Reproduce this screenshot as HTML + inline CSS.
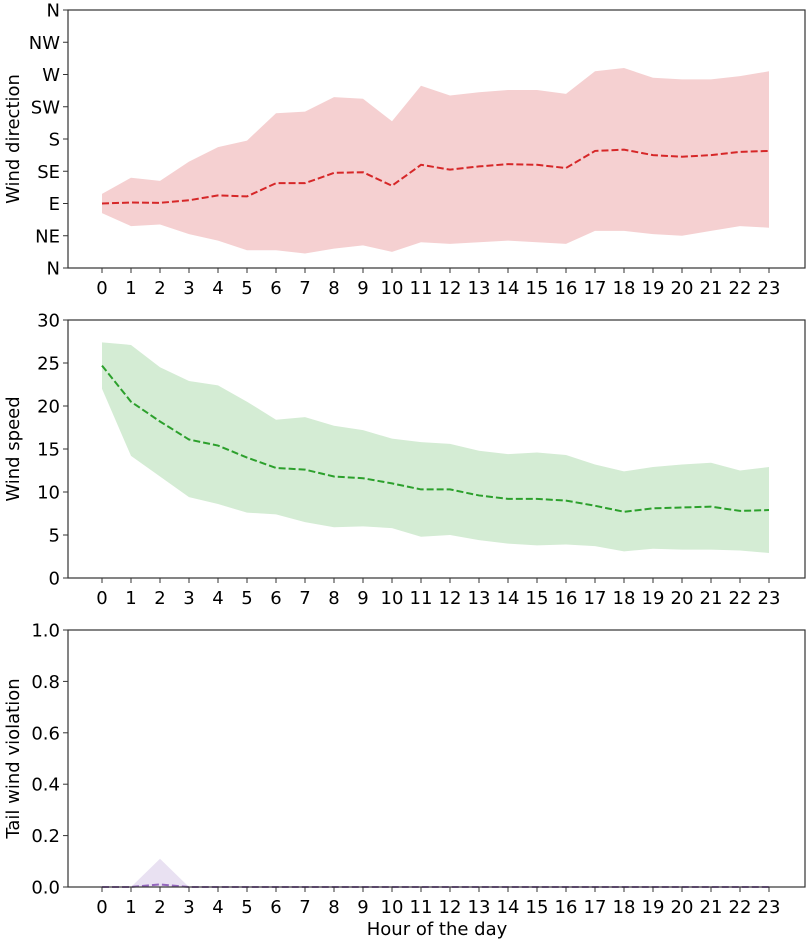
<!DOCTYPE html>
<html><head><meta charset="utf-8"><style>
body{margin:0;background:#fff;}
svg text{font-family:"DejaVu Sans","Liberation Sans",sans-serif;fill:#000;}
</style></head><body>
<svg id="chart" width="809" height="942" viewBox="0 0 809 942"></svg>
<script>
const hours=[0,1,2,3,4,5,6,7,8,9,10,11,12,13,14,15,16,17,18,19,20,21,22,23];
const dirMean=[2.0,2.03,2.02,2.1,2.25,2.22,2.63,2.63,2.95,2.97,2.55,3.2,3.05,3.15,3.22,3.2,3.1,3.63,3.67,3.5,3.45,3.5,3.6,3.63];
const dirUpper=[2.3,2.8,2.7,3.3,3.75,3.95,4.8,4.85,5.3,5.25,4.55,5.65,5.35,5.45,5.52,5.52,5.4,6.1,6.2,5.9,5.85,5.85,5.95,6.1];
const dirLower=[1.7,1.3,1.35,1.05,0.85,0.55,0.55,0.45,0.6,0.7,0.5,0.8,0.75,0.8,0.85,0.8,0.75,1.15,1.15,1.05,1.0,1.15,1.3,1.25];
const dirTicks=["N","NE","E","SE","S","SW","W","NW","N"];
const spdMean=[24.7,20.5,18.2,16.1,15.4,14,12.8,12.6,11.8,11.6,11,10.3,10.3,9.6,9.2,9.2,9,8.4,7.7,8.1,8.2,8.3,7.8,7.9];
const spdUpper=[27.4,27.1,24.5,22.9,22.4,20.5,18.4,18.7,17.7,17.2,16.2,15.8,15.6,14.8,14.4,14.6,14.3,13.2,12.4,12.9,13.2,13.4,12.5,12.9];
const spdLower=[22,14.2,11.8,9.4,8.6,7.6,7.4,6.5,5.9,6,5.8,4.8,5,4.4,4,3.8,3.9,3.7,3.1,3.4,3.3,3.3,3.2,2.9];
const spdTicks=[0,5,10,15,20,25,30];
const tailMean=[0,0,0.01,0,0,0,0,0,0,0,0,0,0,0,0,0,0,0,0,0,0,0,0,0];
const tailUpper=[0,0,0.11,0,0,0,0,0,0,0,0,0,0,0,0,0,0,0,0,0,0,0,0,0];
const tailLower=[0,0,0,0,0,0,0,0,0,0,0,0,0,0,0,0,0,0,0,0,0,0,0,0];
const tailTicks=["0.0","0.2","0.4","0.6","0.8","1.0"];

const NS="http://www.w3.org/2000/svg";
const svg=document.getElementById('chart');
const L=68,R=805;
const x=h=>102+h*29;
function mk(t,a,p){const e=document.createElementNS(NS,t);for(const k in a)e.setAttribute(k,a[k]);(p||svg).appendChild(e);return e;}
function panel(name,top,bot,ymax,ticks,tickVals,ylabel,mean,up,lo,col,band){
  const g=mk('g',{});
  
  
  const y=v=>bot-(v/ymax)*(bot-top);
  let d='M'+hours.map((h,i)=>x(h)+','+y(up[i])).join(' L');
  for(let i=hours.length-1;i>=0;i--)d+=' L'+x(hours[i])+','+y(lo[i]);
  const b=mk('path',{d:d+'Z',fill:band,stroke:'none'},g);
  
  
  const ln=mk('polyline',{points:hours.map((h,i)=>x(h)+','+y(mean[i])).join(' '),fill:'none',stroke:col,'stroke-width':2,'stroke-dasharray':'7,3'},g);
  
  
  const fr=mk('rect',{x:L,y:top,width:R-L,height:bot-top,fill:'none',stroke:'#333','stroke-width':1.2},g);
  
  
  ticks.forEach((t,i)=>{
    const yy=y(tickVals[i]);
    mk('line',{x1:L-5,x2:L,y1:yy,y2:yy,stroke:'#333'},g);
    const tx=mk('text',{x:L-8,y:yy+6.5,'text-anchor':'end','font-size':18},g);tx.textContent=t;
    
    
  });
  hours.forEach(h=>{
    mk('line',{x1:x(h),x2:x(h),y1:bot,y2:bot+5,stroke:'#333'},g);
    const tx=mk('text',{x:x(h),y:bot+26,'text-anchor':'middle','font-size':18},g);tx.textContent=h;
    
    
  });
  const cy=(top+bot)/2;
  const yl=mk('text',{x:19,y:cy,'text-anchor':'middle','font-size':18,transform:'rotate(-90 19 '+cy+')'},g);yl.textContent=ylabel;
  
  
}
panel('direction',10,268,8,dirTicks,dirTicks.map((t,i)=>i),'Wind direction',dirMean,dirUpper,dirLower,'#d62728','#f5d0d1');
panel('speed',320,578,30,spdTicks.map(String),spdTicks,'Wind speed',spdMean,spdUpper,spdLower,'#2ca02c','#d4ecd4');
panel('tail',630,887,1,tailTicks,tailTicks.map(Number),'Tail wind violation',tailMean,tailUpper,tailLower,'#9467bd','#e9e1f2');
const xl=mk('text',{x:437,y:935,'text-anchor':'middle','font-size':18});xl.textContent='Hour of the day';


</script>
</body></html>
